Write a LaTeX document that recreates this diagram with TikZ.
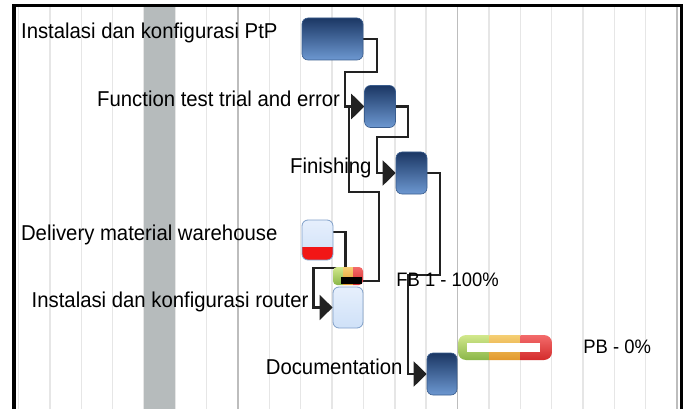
\documentclass[tikz,border=0pt]{standalone}
\usepackage{fontspec}
\setmainfont{Liberation Sans}[FakeStretch=0.945]
\usetikzlibrary{arrows.meta,calc,positioning}
\pgfdeclarelayer{grid}
\pgfdeclarelayer{links}
\pgfsetlayers{grid,links,main}
\definecolor{navytop}{HTML}{1B3764}
\definecolor{navybot}{HTML}{6D98D1}
\definecolor{navyline}{HTML}{3A5D8E}
\definecolor{paletop}{HTML}{E6EFFC}
\definecolor{palebot}{HTML}{CFE1F8}
\definecolor{paleline}{HTML}{7F9FC8}
\definecolor{alertred}{HTML}{F21616}
\definecolor{gridgray}{HTML}{E6E6E6}
\definecolor{weekgray}{HTML}{BDBDBD}
\definecolor{bandgray}{HTML}{B6BBBC}
\definecolor{linkgray}{HTML}{222222}
\definecolor{lightgreen}{HTML}{D2E88C}
\definecolor{darkgreen}{HTML}{8AB648}
\definecolor{lightorange}{HTML}{F5CF74}
\definecolor{darkorange}{HTML}{E2982C}
\definecolor{lightred}{HTML}{F36B6B}
\definecolor{darkred}{HTML}{D32B2B}
\begin{document}
\begin{tikzpicture}[x=1pt,y=-1pt,
  task/.style={rounded corners=6pt, inner sep=0pt, minimum height=42pt,
    top color=navytop, bottom color=navybot, draw=navyline, line width=0.6pt},
  lighttask/.style={rounded corners=6pt, inner sep=0pt, minimum height=41pt,
    top color=paletop, bottom color=palebot, draw=paleline, line width=0.8pt},
  redpart/.style={path picture={\fill[alertred, sharp corners]
    (path picture bounding box.south west) rectangle
    ([yshift=13pt]path picture bounding box.south east);}},
  tribar/.style={rounded corners=#1, inner sep=0pt, path picture={
    \coordinate (nw) at (path picture bounding box.north west);
    \coordinate (ne) at (path picture bounding box.north east);
    \coordinate (sw) at (path picture bounding box.south west);
    \coordinate (se) at (path picture bounding box.south east);
    \shade[sharp corners, top color=lightgreen, bottom color=darkgreen]
      (nw) rectangle ($(sw)!1/3!(se)$);
    \shade[sharp corners, top color=lightorange, bottom color=darkorange]
      ($(nw)!1/3!(ne)$) rectangle ($(sw)!2/3!(se)$);
    \shade[sharp corners, top color=lightred, bottom color=darkred]
      ($(nw)!2/3!(ne)$) rectangle (se);}},
  link/.style={draw=linkgray, line width=2.2pt,
    -{Triangle[length=13pt,width=25pt]}},
  tasklabel/.style={font=\fontsize{21.5}{25}\selectfont, inner sep=0pt},
  barlabel/.style={font=\fontsize{19.5}{23}\selectfont, inner sep=0pt, anchor=base west}]
\useasboundingbox (0,0) rectangle (688,409);

% day columns
\begin{pgfonlayer}{grid}
\foreach \k in {0,...,21}
  \draw[gridgray, line width=1.4pt] ({18.5+31.36*\k},7) -- ++(0,402);
\foreach \k in {7,14,21}
  \draw[weekgray, line width=1.4pt] ({18.5+31.36*\k},7) -- ++(0,402);
\fill[bandgray] (143.9,7) rectangle (175.3,409);
\draw[line width=3.5pt] (14,409) -- (14,5.5) -- (681.5,5.5) -- (681.5,409);
\end{pgfonlayer}

% tasks
\node[task, minimum width=61pt] (ptp) at (332.5,39) {};
\node[task, minimum width=31pt] (ftest) at (380,106.5) {};
\node[task, minimum width=31pt] (finish) at (411.5,173) {};
\node[lighttask, redpart, minimum width=31pt, minimum height=40pt] (deliv) at (317.5,240) {};
\node[tribar=4pt, minimum width=30pt, minimum height=18pt] (routerbar) at (348,276) {};
\node[fill=black, inner sep=0pt, minimum width=21pt, minimum height=7pt] (routerfill) at (351.5,280) {};
\node[lighttask, minimum width=30pt] (router) at (348,307.5) {};
\node[task, minimum width=30pt] (docu) at (442,374) {};
\node[tribar=8pt, minimum width=94pt, minimum height=25pt] (pbbar) at (505,347.5) {};
\node[fill=white, inner sep=0pt, minimum width=73pt, minimum height=9pt] (pbfill) at (503.5,347.5) {};

% labels
\node[tasklabel, left=24pt of ptp.west, anchor=base east] (ptplabel) {Instalasi dan konfigurasi PtP};
\node[tasklabel, left=24pt of ftest.west, anchor=base east] (ftestlabel) {Function test trial and error};
\node[tasklabel, left=24pt of finish.west, anchor=base east] (finishlabel) {Finishing};
\node[tasklabel, left=24pt of deliv.west, anchor=base east] (delivlabel) {Delivery material warehouse};
\node[tasklabel, left=24pt of router.west, anchor=base east] (routerlabel) {Instalasi dan konfigurasi router};
\node[tasklabel, left=24pt of docu.west, anchor=base east] (doculabel) {Documentation};
\node[barlabel] (fblabel) at ([xshift=33pt,yshift=-10pt]routerbar.east) {FB 1 - 100\%};
\node[barlabel] (pblabel) at ([xshift=31pt,yshift=-5.5pt]pbbar.east) {PB - 0\%};

% dependencies
\begin{pgfonlayer}{links}
\draw[link] (ptp.east) -- ++(14,0) -- ++(0,33) -- ++(-32,0) |- (ftest.west);
\draw[link] ([yshift=-5pt]routerbar.east) -- ++(16,0) -- ++(0,-89) -- ++(-30,0) |- (ftest.west);
\draw[link] (ftest.east) -- ++(12,0) -- ++(0,30.5) -- ++(-31,0) |- (finish.west);
\draw[link] (finish.east) -- ++(12.5,0) -- ++(0,102) -- ++(-32,0) |- (docu.west);
\draw[link] ([yshift=8pt]deliv.east) -- ++(12,0) -- ++(0,36) -- ++(-32,0) |- (router.west);
\end{pgfonlayer}
\end{tikzpicture}
\end{document}
